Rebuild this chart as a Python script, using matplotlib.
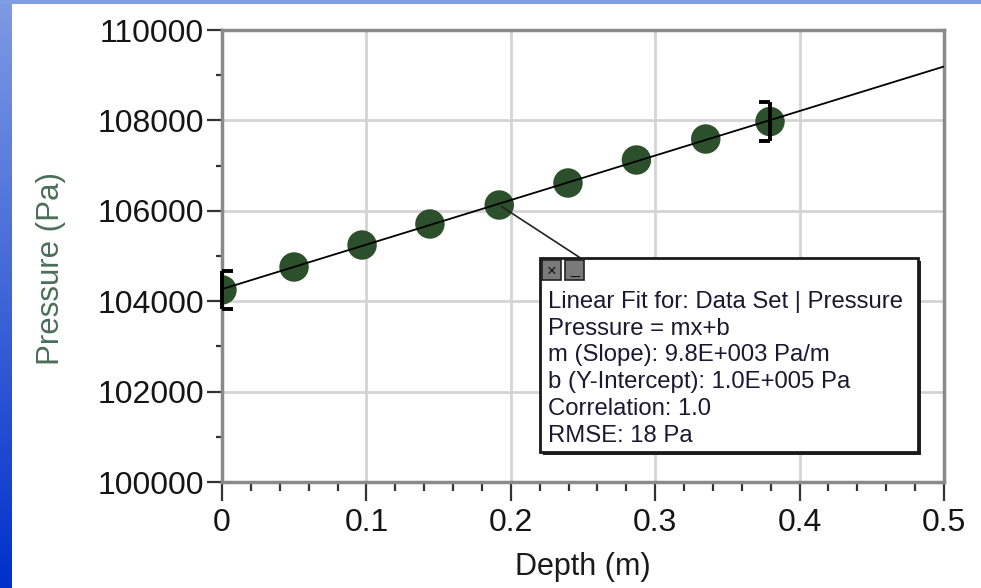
#!/usr/bin/env python3
"""Pressure vs depth with linear fit, Logger Pro style."""

import numpy as np
import matplotlib.pyplot as plt
from matplotlib.colors import LinearSegmentedColormap
from matplotlib.patches import Rectangle
from matplotlib.ticker import MultipleLocator

depth = [0.0, 0.0499, 0.097, 0.144, 0.192, 0.2396, 0.287, 0.335, 0.3795]
pressure = [104250, 104757, 105243, 105708, 106128, 106615, 107124, 107588, 107975]
err_idx = [0, 8]
err_size = [420, 440]
x_ticks = [0, 0.1, 0.2, 0.3, 0.4, 0.5]
x_tick_labels = ["0", "0.1", "0.2", "0.3", "0.4", "0.5"]
fit_lines = [
    "Linear Fit for: Data Set | Pressure",
    "Pressure = mx+b",
    "m (Slope): 9.8E+003 Pa/m",
    "b (Y-Intercept): 1.0E+005 Pa",
    "Correlation: 1.0",
    "RMSE: 18 Pa",
]

plt.rcParams["font.family"] = ["Liberation Sans", "DejaVu Sans"]

W, H = 981, 588
fig = plt.figure(figsize=(W / 100, H / 100), dpi=100)
fig.patch.set_facecolor("white")

# blue frame on left and top
strip = fig.add_axes([0, 0, 12 / W, 1])
grad = np.linspace(0, 1, 256).reshape(-1, 1)
cmap = LinearSegmentedColormap.from_list("b", ["#7e9be4", "#0030cc"])
strip.imshow(grad, aspect="auto", cmap=cmap, extent=(0, 1, 0, 1), origin="upper")
strip.axis("off")
top = fig.add_axes([0, 1 - 4 / H, 1, 4 / H])
top.set_facecolor("#809ee4")
top.set_xticks([])
top.set_yticks([])
for s in top.spines.values():
    s.set_visible(False)

ax = fig.add_axes([222 / W, 106 / H, 722 / W, 452 / H])
ax.set_xlim(0, 0.5)
ax.set_ylim(100000, 110000)
ax.xaxis.set_minor_locator(MultipleLocator(0.02))
ax.yaxis.set_major_locator(MultipleLocator(2000))
ax.yaxis.set_minor_locator(MultipleLocator(1000))
ax.set_xticks(x_ticks)
ax.set_xticklabels(x_tick_labels)
ax.grid(True, which="major", color="#d4d4d4", lw=2)
ax.set_axisbelow(True)
for s in ax.spines.values():
    s.set_color("#8a8a8a")
    s.set_linewidth(2.5)
ax.tick_params(axis="x", which="major", length=14, width=1.6, color="#333333",
               labelsize=23, pad=5, labelcolor="#151515")
ax.tick_params(axis="x", which="minor", length=6.5, width=1.6, color="#333333")
ax.tick_params(axis="y", which="major", length=11, width=1.6, color="#333333",
               labelsize=23, pad=2, labelcolor="#151515")
ax.tick_params(axis="y", which="minor", length=4, width=1.6, color="#333333")

ax.set_xlabel("Depth (m)", fontsize=22, color="#1a1a1a", labelpad=10)
ax.set_ylabel("Pressure (Pa)", fontsize=22.5, color="#4a6e58")
ax.yaxis.set_label_coords(-0.216, 0.473)

slope, intercept = np.polyfit(depth, pressure, 1)
xs = np.array([0, 0.5])
ax.plot(xs, slope * xs + intercept, color="black", lw=1.3, zorder=4)

ax.scatter(depth, pressure, s=450, color="#2c4f2c", edgecolor="none", zorder=3)

# bracket-style error bars on first and last point
for i, e in zip(err_idx, err_size):
    x, y = depth[i], pressure[i]
    ax.plot([x, x], [y - e, y + e], color="black", lw=2.8, zorder=5, clip_on=False,
            solid_capstyle="butt")
    cap = [(0, 0), (1, 0)] if i == 0 else [(-1, 0), (0, 0)]
    ax.plot([x, x], [y - e, y + e], ls="none", marker=cap, ms=16, mew=2.8,
            color="black", zorder=5, clip_on=False)

# fit annotation box
bx0, by0, bx1, by1 = 540, 258, 918, 452
ax.annotate("", xy=(depth[4], pressure[4]), xycoords="data",
            xytext=(582 / W, 1 - 259 / H), textcoords="figure fraction",
            arrowprops=dict(arrowstyle="-", color="#222222", lw=1.2), zorder=6)
fig.patches.append(Rectangle((bx0 / W + 3 / W, 1 - (by1 + 3) / H),
                             (bx1 - bx0) / W, (by1 - by0) / H,
                             transform=fig.transFigure, facecolor="#222222",
                             edgecolor="none", zorder=7))
fig.patches.append(Rectangle((bx0 / W, 1 - by1 / H), (bx1 - bx0) / W, (by1 - by0) / H,
                             transform=fig.transFigure, facecolor="white",
                             edgecolor="#1a1a1a", lw=2, zorder=8))
for k, sym in enumerate(["×", "_"]):
    x0 = 542 + k * 23
    fig.patches.append(Rectangle((x0 / W, 1 - 280 / H), 19 / W, 20 / H,
                                 transform=fig.transFigure, facecolor="#7a7a7a",
                                 edgecolor="#222222", lw=1.2, zorder=9))
    fig.text((x0 + 9.5) / W, 1 - 271 / H, sym, ha="center", va="center",
             fontsize=12, color="#111111", zorder=10)
for k, line in enumerate(fit_lines):
    fig.text(548 / W, 1 - (302 + k * 26.7) / H, line, ha="left", va="center",
             fontsize=17.2, color="#1c1830", zorder=10)

fig.savefig("out.png", dpi=100)
